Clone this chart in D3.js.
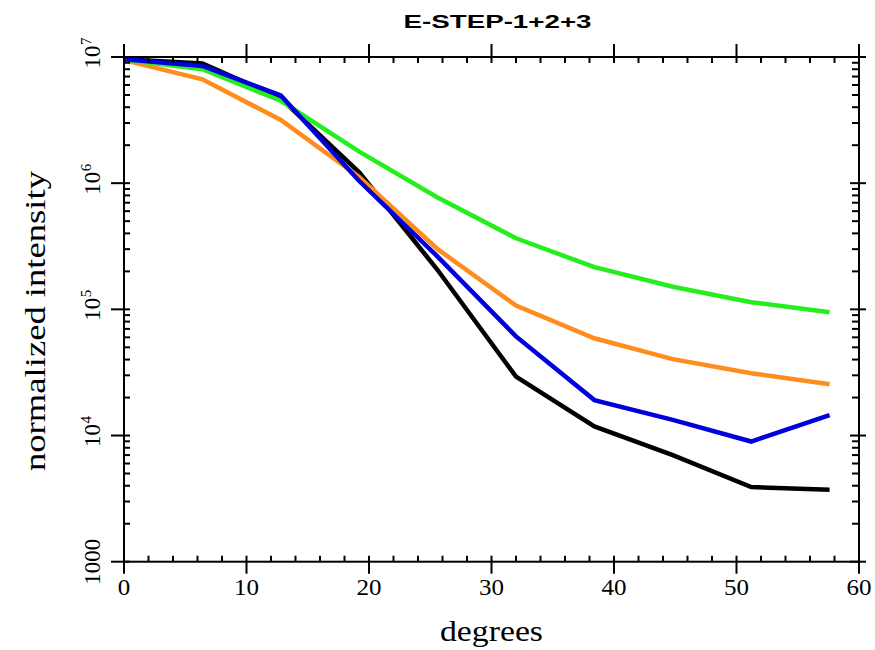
<html lang="en">
<head>
  <meta charset="UTF-8">
  <title>E-STEP-1+2+3</title>
  <script src="https://d3js.org/d3.v7.min.js"></script>
  <style>
    body { margin: 0; background: white; }
    .serif { font-family: "Liberation Serif", "Times New Roman", Times, serif; }
    .sans { font-family: "Liberation Sans", Arial, Helvetica, sans-serif; }
  </style>
</head>
<body>
  <svg id="chart" width="875" height="650"></svg>
  <script>
    // data
    const degrees = [0, 6.4, 12.8, 19.2, 25.6, 32, 38.4, 44.8, 51.2, 57.6];
    const blackSeries = [9.6e6, 8.9e6, 4.7e6, 1.22e6, 2.05e5, 2.93e4, 1.18e4, 7.0e3, 3.9e3, 3.72e3];
    const orangeSeries = [9.45e6, 6.65e6, 3.17e6, 1.12e6, 3.0e5, 1.07e5, 5.9e4, 4.03e4, 3.12e4, 2.55e4];
    const greenSeries = [9.55e6, 8.0e6, 4.5e6, 1.78e6, 7.7e5, 3.66e5, 2.16e5, 1.51e5, 1.14e5, 9.5e4];
    const blueSeries = [9.6e6, 8.5e6, 4.95e6, 1.04e6, 2.62e5, 6.1e4, 1.91e4, 1.33e4, 8.96e3, 1.45e4];
    const xMajor = [0, 10, 20, 30, 40, 50, 60];
    const yExponents = [3, 4, 5, 6, 7];

    const series = [
      { name: "black", values: blackSeries, color: "#000000" },
      { name: "orange", values: orangeSeries, color: "#ff8c1c" },
      { name: "green", values: greenSeries, color: "#26ee1e" },
      { name: "blue", values: blueSeries, color: "#0000dc" }
    ];

    const svg = d3.select("#chart");
    const plotLeft = 124, plotRight = 859, plotTop = 57, plotBottom = 561.7;

    const x = d3.scaleLinear().domain([0, 60]).range([plotLeft, plotRight]);
    const y = d3.scaleLog().domain([1000, 1e7]).range([plotBottom, plotTop]);

    // lines
    const line = d3.line()
      .x((d, i) => x(degrees[i]))
      .y(d => y(d));

    svg.append("g").selectAll("path").data(series)
      .join("path")
      .attr("d", d => line(d.values))
      .attr("fill", "none")
      .attr("stroke", d => d.color)
      .attr("stroke-width", 4.5)
      .attr("stroke-linejoin", "miter");

    // frame
    const axes = svg.append("g").attr("stroke", "black").attr("stroke-width", 2);
    axes.append("rect")
      .attr("x", plotLeft).attr("y", plotTop)
      .attr("width", plotRight - plotLeft).attr("height", plotBottom - plotTop)
      .attr("fill", "none");

    // x ticks (bottom and top)
    const xMinor = d3.range(0, 61, 2).filter(v => v % 10 !== 0);
    xMajor.forEach(v => {
      axes.append("line").attr("x1", x(v)).attr("x2", x(v)).attr("y1", plotBottom - 6).attr("y2", plotBottom + 12);
      axes.append("line").attr("x1", x(v)).attr("x2", x(v)).attr("y1", plotTop - 13).attr("y2", plotTop + 6);
    });
    xMinor.forEach(v => {
      axes.append("line").attr("x1", x(v)).attr("x2", x(v)).attr("y1", plotBottom - 6).attr("y2", plotBottom);
      axes.append("line").attr("x1", x(v)).attr("x2", x(v)).attr("y1", plotTop).attr("y2", plotTop + 6);
    });

    // y ticks (left and right)
    const yMajor = yExponents.map(e => Math.pow(10, e));
    const yMinor = [];
    yExponents.slice(0, -1).forEach(e => {
      d3.range(2, 10).forEach(m => yMinor.push(m * Math.pow(10, e)));
    });
    yMajor.forEach(v => {
      axes.append("line").attr("x1", plotLeft - 13).attr("x2", plotLeft + 6).attr("y1", y(v)).attr("y2", y(v));
      axes.append("line").attr("x1", plotRight - 9).attr("x2", plotRight + 7).attr("y1", y(v)).attr("y2", y(v));
    });
    yMinor.forEach(v => {
      axes.append("line").attr("x1", plotLeft).attr("x2", plotLeft + 6).attr("y1", y(v)).attr("y2", y(v));
      axes.append("line").attr("x1", plotRight - 7).attr("x2", plotRight).attr("y1", y(v)).attr("y2", y(v));
    });

    // tick labels
    svg.append("g").attr("class", "serif").selectAll("text").data(xMajor)
      .join("text")
      .attr("x", d => x(d))
      .attr("y", 595)
      .attr("text-anchor", "middle")
      .attr("font-size", 23)
      .attr("textLength", d => String(d).length * 12.5)
      .attr("lengthAdjust", "spacingAndGlyphs")
      .text(d => d);

    const yLab = svg.append("g").attr("class", "serif");
    yExponents.forEach(e => {
      const g = yLab.append("g")
        .attr("transform", "translate(100," + y(Math.pow(10, e)) + ") rotate(-90)");
      if (e === 3) {
        g.append("text").attr("text-anchor", "middle").attr("font-size", 23).text("1000");
      } else {
        g.append("text").attr("text-anchor", "middle").attr("font-size", 23).text("10");
        g.append("text").attr("x", 12).attr("y", -9).attr("font-size", 15).text(e);
      }
    });

    // titles
    svg.append("text")
      .attr("class", "sans")
      .attr("x", 497.5).attr("y", 28)
      .attr("text-anchor", "middle")
      .attr("font-weight", "bold")
      .attr("font-size", 19)
      .attr("textLength", 188)
      .attr("lengthAdjust", "spacingAndGlyphs")
      .text("E-STEP-1+2+3");

    svg.append("text")
      .attr("class", "serif")
      .attr("x", 491.5).attr("y", 641)
      .attr("text-anchor", "middle")
      .attr("font-size", 30)
      .attr("textLength", 103)
      .attr("lengthAdjust", "spacingAndGlyphs")
      .text("degrees");

    svg.append("text")
      .attr("class", "serif")
      .attr("transform", "translate(45,321) rotate(-90)")
      .attr("text-anchor", "middle")
      .attr("font-size", 30)
      .attr("textLength", 300)
      .attr("lengthAdjust", "spacingAndGlyphs")
      .text("normalized intensity");
  </script>
</body>
</html>
